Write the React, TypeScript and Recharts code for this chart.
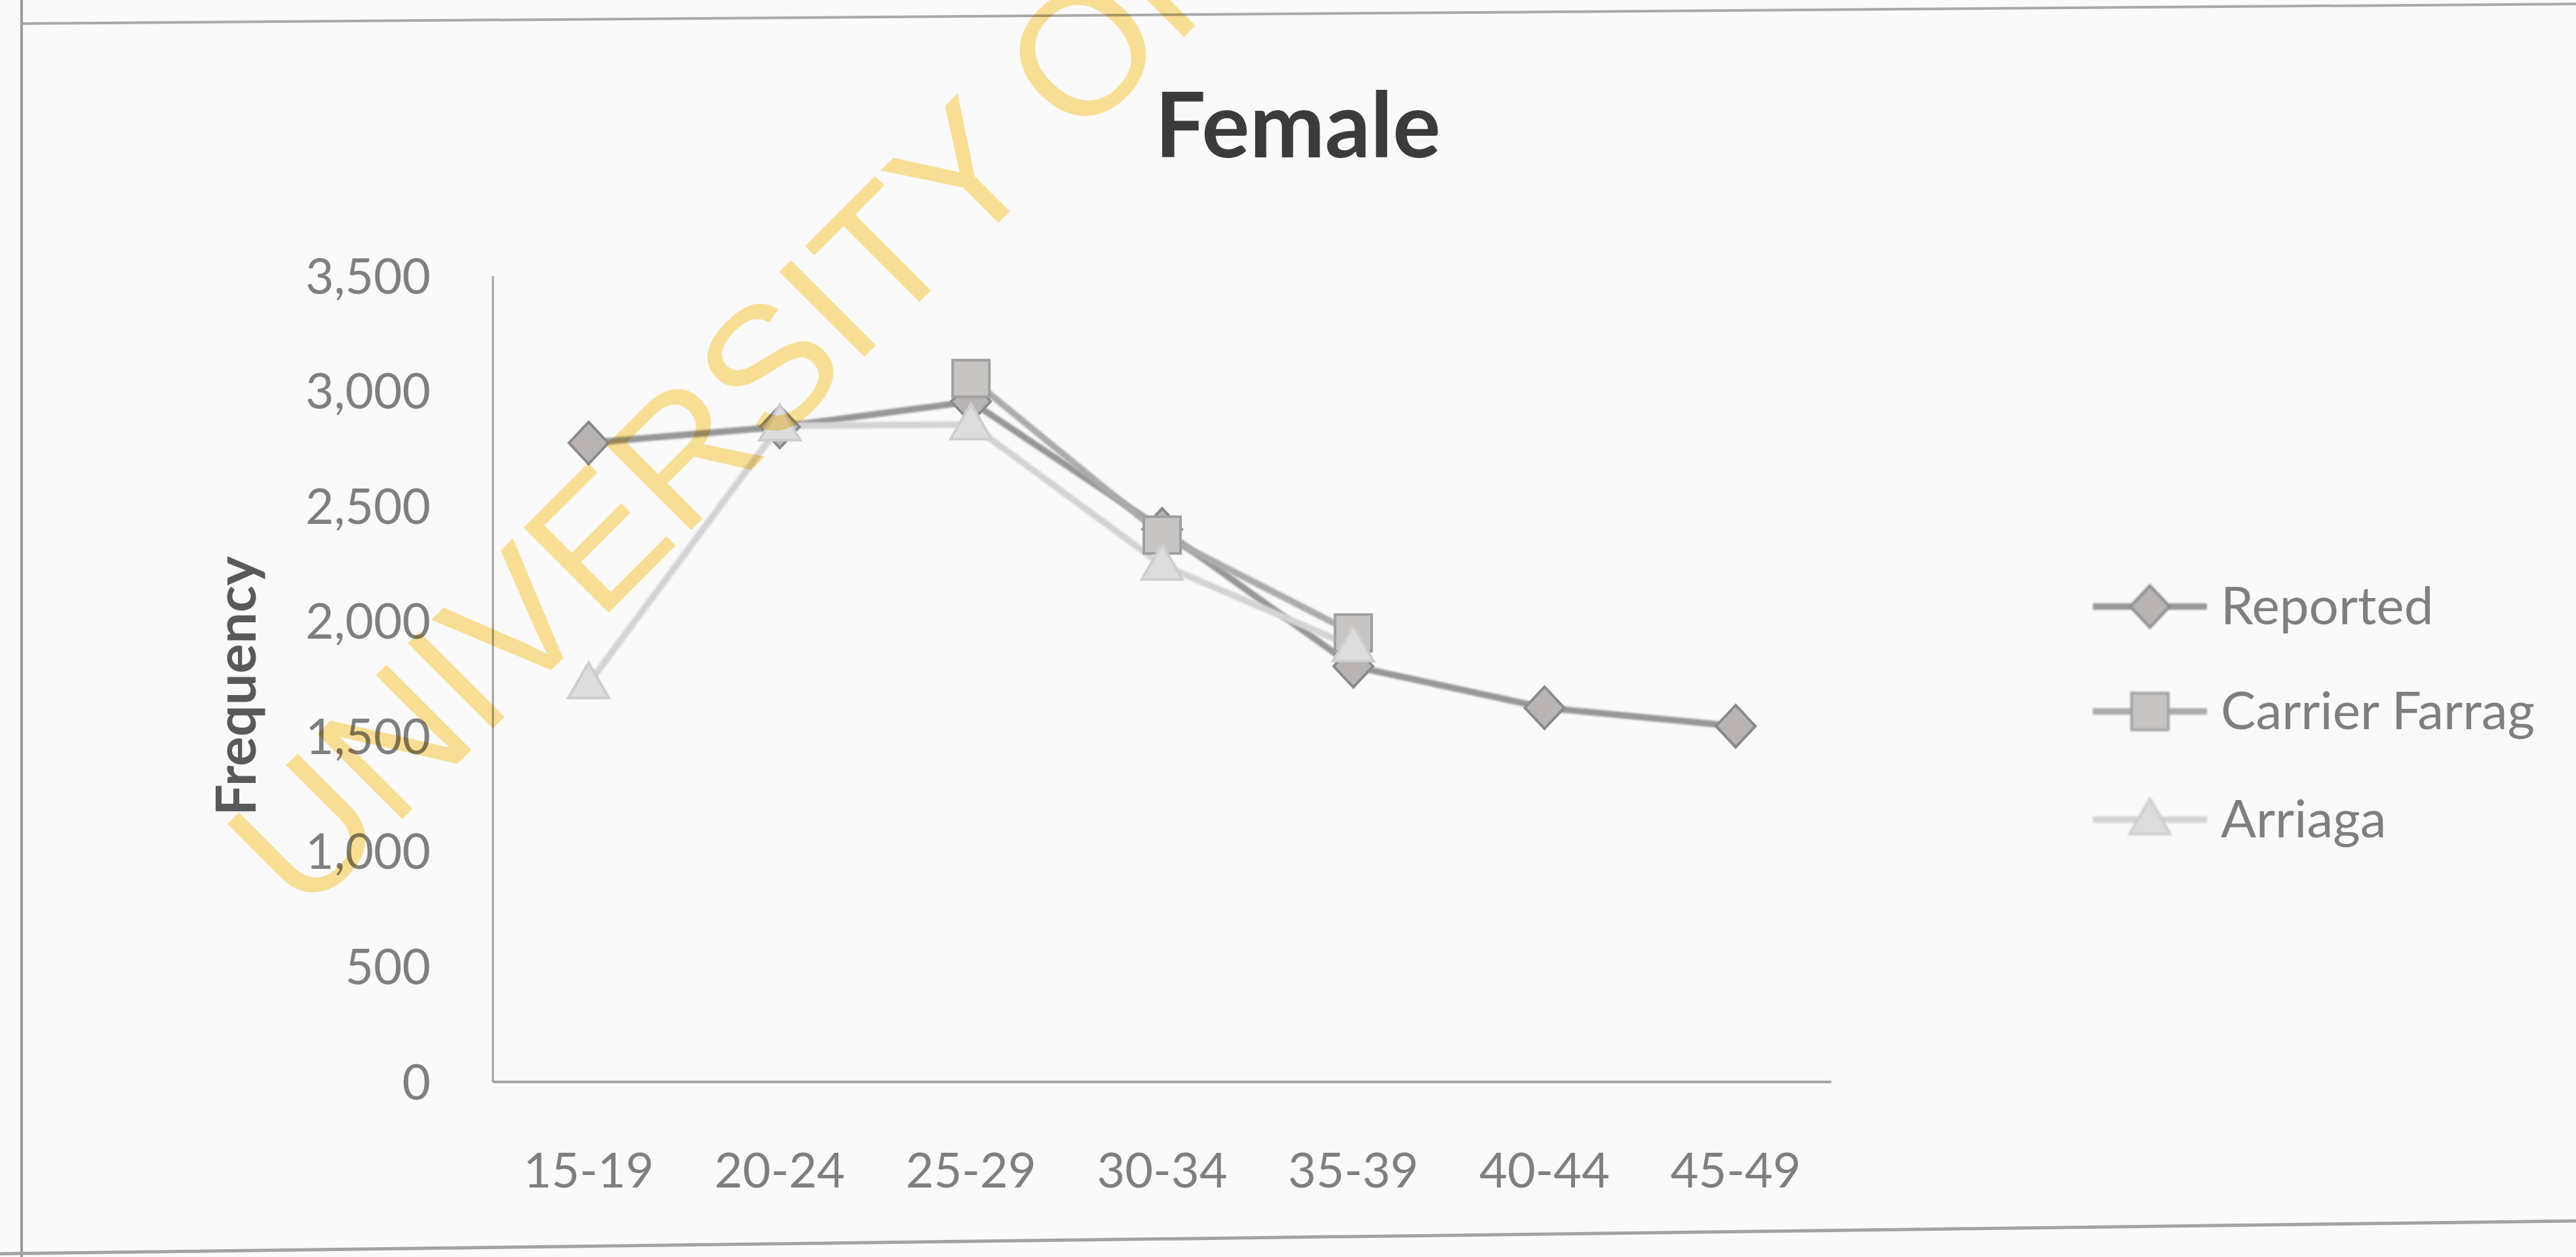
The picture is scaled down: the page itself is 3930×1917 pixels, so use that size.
import React from "react";
import { LineChart, Line, XAxis, YAxis } from "recharts";

// Female frequencies by five-year age group
const ageGroups = ["15-19", "20-24", "25-29", "30-34", "35-39", "40-44", "45-49"];
const reported = [2775, 2845, 2955, 2400, 1805, 1625, 1545];
const carrierFarrag = [null, null, 3055, 2375, 1950, null, null];
const arriaga = [1730, 2850, 2855, 2245, 1890, null, null];
const yTicks = [0, 500, 1000, 1500, 2000, 2500, 3000, 3500];

const W = 3930;
const H = 1917;
const FONT = "Lato, 'Open Sans', sans-serif";

type Shape = "diamond" | "square" | "triangle";

interface SeriesDef {
  key: string;
  name: string;
  stroke: string;
  fill: string;
  edge: string;
  shape: Shape;
}

const series: SeriesDef[] = [
  { key: "reported", name: "Reported", stroke: "#979797", fill: "#b9b3b3", edge: "#8a8a8a", shape: "diamond" },
  { key: "carrier", name: "Carrier Farrag", stroke: "#ababab", fill: "#c8c4c1", edge: "#a0a0a0", shape: "square" },
  { key: "arriaga", name: "Arriaga", stroke: "#d3d3d3", fill: "#dddddd", edge: "#cdcdcd", shape: "triangle" },
];

const data = ageGroups.map((age, i) => ({
  age,
  reported: reported[i],
  carrier: carrierFarrag[i],
  arriaga: arriaga[i],
}));

function Marker({ shape, cx, cy, fill, edge }: { shape: Shape; cx: number; cy: number; fill: string; edge: string }) {
  if (shape === "diamond") {
    return (
      <polygon
        points={`${cx},${cy - 32} ${cx + 30},${cy} ${cx},${cy + 32} ${cx - 30},${cy}`}
        fill={fill}
        stroke={edge}
        strokeWidth={4}
      />
    );
  }
  if (shape === "square") {
    return <rect x={cx - 28} y={cy - 28} width={56} height={56} fill={fill} stroke={edge} strokeWidth={4} />;
  }
  return (
    <polygon
      points={`${cx},${cy - 32} ${cx + 31},${cy + 22} ${cx - 31},${cy + 22}`}
      fill={fill}
      stroke={edge}
      strokeWidth={4}
    />
  );
}

const makeDot = (s: SeriesDef) => (p: any) => {
  if (p.value == null || p.cy == null || isNaN(p.cy)) return <g key={`${s.key}-${p.index}`} />;
  return (
    <g key={`${s.key}-${p.index}`}>
      <Marker shape={s.shape} cx={p.cx} cy={p.cy} fill={s.fill} edge={s.edge} />
    </g>
  );
};

// legend rows: icon line from 3193 to 3367, label from 3388
const legendBaselines = [952, 1112, 1277];

export default function App() {
  return (
    <div style={{ position: "absolute", left: 0, top: 0, width: W, height: H, background: "#fafafa", overflow: "hidden" }}>
      <style>{`.recharts-line, .legend-icon { filter: blur(1.6px); }`}</style>
      <LineChart
        width={W}
        height={H}
        data={data}
        margin={{ top: 421, right: 1136, bottom: 117, left: 552 }}
      >
        <XAxis
          dataKey="age"
          height={150}
          padding={{ left: 146, right: 146 }}
          axisLine={{ stroke: "#a6a6a6", strokeWidth: 4 }}
          tickLine={false}
          tickSize={0}
          tickMargin={108}
          tick={{ fill: "#7f7f7f", fontSize: 74, fontFamily: FONT }}
          interval={0}
        />
        <YAxis
          domain={[0, 3500]}
          ticks={yTicks}
          width={200}
          axisLine={{ stroke: "#9e9e9e", strokeWidth: 3 }}
          tickLine={false}
          tickSize={0}
          tickMargin={95}
          tick={{ fill: "#7f7f7f", fontSize: 75, fontFamily: FONT }}
          tickFormatter={(v: number) => v.toLocaleString("en-US")}
        />
        {series.map((s) => (
          <Line
            key={s.key}
            type="linear"
            dataKey={s.key}
            name={s.name}
            stroke={s.stroke}
            strokeWidth={10}
            dot={makeDot(s)}
            activeDot={false}
            connectNulls={false}
            isAnimationActive={false}
          />
        ))}
      </LineChart>

      <svg
        width={W}
        height={H}
        style={{ position: "absolute", left: 0, top: 0, pointerEvents: "none" }}
      >
        {/* page frame */}
        <line x1={33} y1={0} x2={33} y2={H} stroke="#9a9a9a" strokeWidth={4} />
        <line x1={33} y1={36} x2={W} y2={6} stroke="#a9a9a9" strokeWidth={4} />
        <line x1={0} y1={1912} x2={W} y2={1862} stroke="#a3a3a3" strokeWidth={5} />

        <text x={1980} y={240} textAnchor="middle" fontFamily={FONT} fontWeight={700} fontSize={137} fill="#3d3a3b">
          Female
        </text>

        <text
          x={357}
          y={1046}
          transform="rotate(-90 357 1046)"
          textAnchor="middle"
          dominantBaseline="central"
          fontFamily={FONT}
          fontWeight={700}
          fontSize={85}
          fill="#595959"
        >
          Frequency
        </text>

        {series.map((s, i) => {
          const base = legendBaselines[i];
          const cy = base - 27;
          return (
            <g key={s.key}>
              <g className="legend-icon">
                <line x1={3193} y1={cy} x2={3367} y2={cy} stroke={s.stroke} strokeWidth={10} />
                <Marker shape={s.shape} cx={3280} cy={cy} fill={s.fill} edge={s.edge} />
              </g>
              <text x={3388} y={base} fontFamily={FONT} fontSize={80} fill="#7f7f7f">
                {s.name}
              </text>
            </g>
          );
        })}

        <text
          x={462}
          y={1401}
          transform="rotate(-45 462 1401)"
          fontFamily="'Liberation Sans', Arial, sans-serif"
          fontSize={267}
          fill="#fde398"
          style={{ mixBlendMode: "multiply" }}
        >
          UNIVERSITY OF
        </text>
      </svg>
    </div>
  );
}
